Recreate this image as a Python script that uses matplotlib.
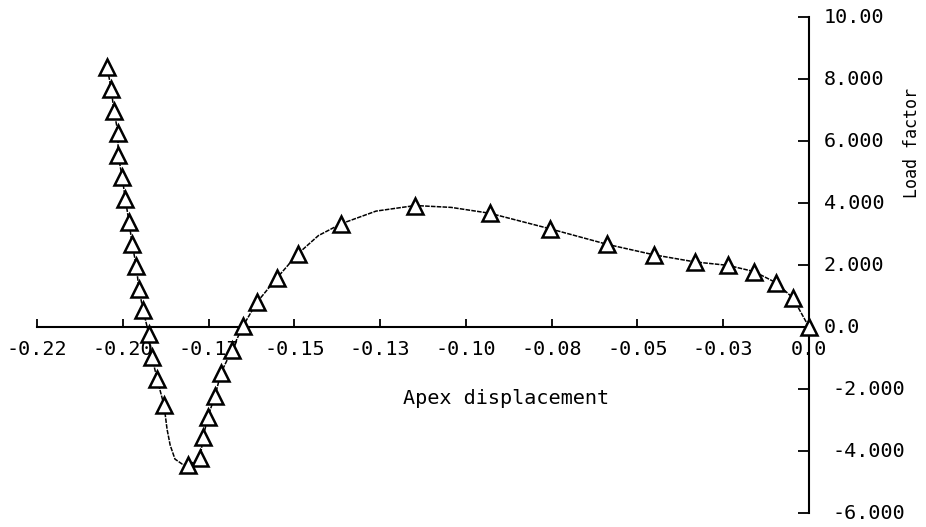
import matplotlib
matplotlib.use('Agg')
import matplotlib.pyplot as plt

# marker points, from the origin along the path to the last step
disp = [0.0, -0.0047, -0.0096, -0.0160, -0.0236, -0.0332, -0.0452, -0.0589,
        -0.0755, -0.0930, -0.1148, -0.1364, -0.1489, -0.1551, -0.1609, -0.1650,
        -0.1682, -0.1714, -0.1731, -0.1752, -0.1766, -0.1775, -0.1810, -0.1880,
        -0.1900, -0.1915, -0.1924, -0.1941, -0.1953, -0.1961, -0.1973, -0.1982,
        -0.1993, -0.2002, -0.2014, -0.2014, -0.2026, -0.2034, -0.2046]
load = [0.0, 0.94, 1.43, 1.79, 1.99, 2.10, 2.33, 2.67,
        3.17, 3.67, 3.92, 3.33, 2.37, 1.58, 0.80, 0.03,
        -0.74, -1.48, -2.21, -2.89, -3.56, -4.24, -4.46, -2.52,
        -1.68, -0.97, -0.23, 0.55, 1.23, 1.98, 2.69, 3.40,
        4.14, 4.85, 5.56, 6.27, 6.98, 7.69, 8.40]

# connecting curve (marker points plus a few read between them)
curve_disp = [0.0, -0.0047, -0.0096, -0.0160, -0.0236, -0.0332, -0.0452, -0.0589,
              -0.0755, -0.0930, -0.1043, -0.1148, -0.1262, -0.1364, -0.1430, -0.1489,
              -0.1551, -0.1609, -0.1650, -0.1682, -0.1714, -0.1731, -0.1752, -0.1766,
              -0.1775, -0.1810, -0.1827, -0.1848, -0.1862, -0.1871, -0.1880, -0.1900,
              -0.1915, -0.1924, -0.1941, -0.1953, -0.1961, -0.1973, -0.1982, -0.1993,
              -0.2002, -0.2014, -0.2014, -0.2026, -0.2034, -0.2046]
curve_load = [0.0, 0.94, 1.43, 1.79, 1.99, 2.10, 2.33, 2.67,
              3.17, 3.67, 3.86, 3.92, 3.74, 3.33, 2.95, 2.37,
              1.58, 0.80, 0.03, -0.74, -1.48, -2.21, -2.89, -3.56,
              -4.24, -4.46, -4.42, -4.26, -3.81, -3.30, -2.52, -1.68,
              -0.97, -0.23, 0.55, 1.23, 1.98, 2.69, 3.40, 4.14,
              4.85, 5.56, 6.27, 6.98, 7.69, 8.40]

x_ticks = [-0.225, -0.2, -0.175, -0.15, -0.125, -0.1, -0.075, -0.05, -0.025, 0.0]
x_labels = ['-0.22', '-0.20', '-0.17', '-0.15', '-0.13', '-0.10', '-0.08', '-0.05', '-0.03', '0.0']
y_ticks = [-6, -4, -2, 0, 2, 4, 6, 8, 10]
y_labels = ['-6.000', '-4.000', '-2.000', '0.0', '2.000', '4.000', '6.000', '8.000', '10.00']

plt.rcParams['font.family'] = ['DejaVu Sans Mono']

fig = plt.figure(figsize=(9.26, 5.27), dpi=100)
ax = fig.add_axes([0, 0, 1, 1])
ax.set_xlim(-0.2358, 0.0341)
ax.set_ylim(-6.45, 10.55)

# axes cross at the origin, y axis on the right
ax.spines['left'].set_visible(False)
ax.spines['top'].set_visible(False)
ax.spines['bottom'].set_position(('data', 0))
ax.spines['bottom'].set_bounds(-0.225, 0)
ax.spines['right'].set_position(('data', 0))
ax.spines['right'].set_bounds(-6, 10)
for s in ['bottom', 'right']:
    ax.spines[s].set_linewidth(1.5)
ax.xaxis.set_ticks_position('bottom')
ax.yaxis.set_ticks_position('right')
ax.set_axisbelow(True)

ax.set_xticks(x_ticks, x_labels)
ax.set_yticks(y_ticks, [''] * len(y_ticks))
ax.tick_params(axis='x', direction='in', length=6, width=1.3, pad=9, labelsize=14.5)
ax.tick_params(axis='y', direction='in', length=8, width=1.3)

for v, lab in zip(y_ticks, y_labels):
    dx = 17 if v < 0 else 10.5
    ax.annotate(lab, xy=(0, v), xytext=(dx, 0), textcoords='offset points',
                ha='left', va='center', fontsize=14.5)

ax.plot(curve_disp, curve_load, color='black', lw=1.1, ls=(0, (3, 0.8)), zorder=3)
ax.plot(disp, load, ls='none', marker='^', ms=11, mfc='white', mec='black',
        mew=1.8, zorder=4)

ax.text(-0.0883, -2.29, 'Apex displacement', ha='center', va='center', fontsize=14.5)
ax.text(0.0300, 5.94, 'Load factor', ha='center', va='center', rotation=90, fontsize=12)

fig.savefig('out.png', dpi=100)
